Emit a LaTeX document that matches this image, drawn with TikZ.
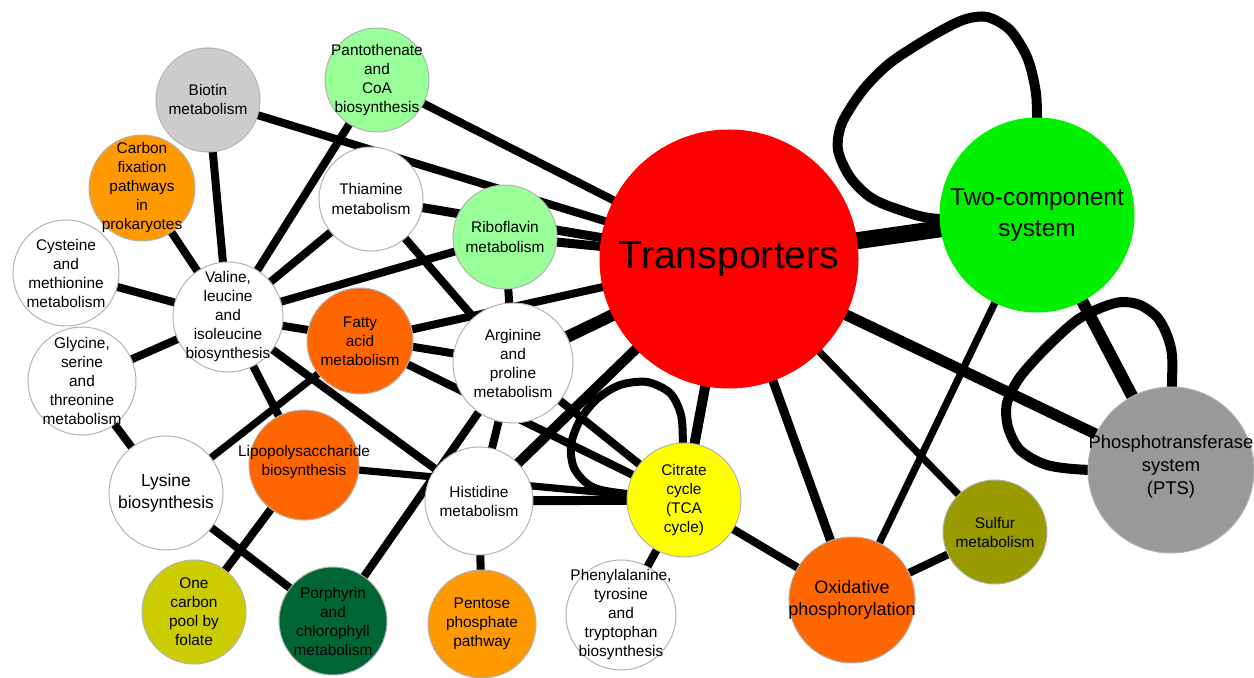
\documentclass[tikz,border=0pt]{standalone}
\usepackage{fontspec}
\setmainfont{Liberation Sans}
\usetikzlibrary{backgrounds}

\definecolor{cTra}{HTML}{FF0000}
\definecolor{cTcs}{HTML}{00F000}
\definecolor{cLgreen}{HTML}{99FF99}
\definecolor{cOrange}{HTML}{FF9900}
\definecolor{cRedor}{HTML}{FF6600}
\definecolor{cYellow}{HTML}{FFFF00}
\definecolor{cOliveA}{HTML}{CCCC00}
\definecolor{cOliveB}{HTML}{999900}
\definecolor{cDkgreen}{HTML}{006633}
\definecolor{cGrayA}{HTML}{CCCCCC}
\definecolor{cGrayB}{HTML}{999999}

\begin{document}
\begin{tikzpicture}[x=0.5pt,y=-0.5pt,
  bub/.style={circle, draw=black!30, line width=0.5pt, inner sep=0pt, fill=white},
  txt/.style={align=center, inner sep=0pt, font=\fontsize{7.7}{9.5}\selectfont},
  edge/.style={line width=4pt},
  thin edge/.style={line width=3.6pt},
  mid edge/.style={line width=5pt},
  heavy edge/.style={line width=6pt},
  loop edge/.style={line width=4.6pt, line join=round}]

\useasboundingbox (0,0) rectangle (1254,678);

% pathway circles (minimum size in pt = radius in px)
\node[bub, fill=cGrayA,   minimum size=52pt]  (bio) at (208,100) {};
\node[bub, fill=cLgreen,  minimum size=52pt]  (pan) at (377,80)  {};
\node[bub, fill=cOrange,  minimum size=53pt]  (cfp) at (142,188) {};
\node[bub,                minimum size=52pt]  (thi) at (371,199) {};
\node[bub,                minimum size=53pt]  (cys) at (66,273)  {};
\node[bub,                minimum size=55pt]  (val) at (228,317) {};
\node[bub, fill=cLgreen,  minimum size=52pt]  (rib) at (505,237) {};
\node[bub, fill=cTra, draw=cTra, minimum size=129pt] (tra) at (729,259) {};
\node[bub, fill=cTcs, draw=cTcs, minimum size=97pt]  (tcs) at (1037,215) {};
\node[bub, fill=cRedor,   minimum size=53pt]  (fat) at (360,341) {};
\node[bub,                minimum size=60pt]  (arg) at (513,363) {};
\node[bub,                minimum size=54pt]  (gly) at (82,381)  {};
\node[bub,                minimum size=57pt]  (lys) at (166,493) {};
\node[bub, fill=cRedor,   minimum size=55pt]  (lps) at (304,465) {};
\node[bub,                minimum size=54pt]  (his) at (479,501) {};
\node[bub, fill=cYellow,  minimum size=57pt]  (tca) at (684,500) {};
\node[bub, fill=cOliveA,  minimum size=52pt]  (one) at (194,612) {};
\node[bub, fill=cDkgreen, minimum size=54pt]  (por) at (333,621) {};
\node[bub, fill=cOrange,  minimum size=54pt]  (pen) at (482,624) {};
\node[bub,                minimum size=55pt]  (phe) at (621,615) {};
\node[bub, fill=cRedor,   minimum size=63pt]  (oxp) at (852,600) {};
\node[bub, fill=cOliveB,  minimum size=52pt]  (sul) at (995,532) {};
\node[bub, fill=cGrayB,   minimum size=83pt]  (pts) at (1171,470) {};

% pathway names
\node[txt] (bio-t) at (bio) {Biotin\\metabolism};
\node[txt] (pan-t) at (pan) {Pantothenate\\and\\CoA\\biosynthesis};
\node[txt] (cfp-t) at (cfp) {Carbon\\fixation\\pathways\\in\\prokaryotes};
\node[txt] (thi-t) at (thi) {Thiamine\\metabolism};
\node[txt] (cys-t) at (cys) {Cysteine\\and\\methionine\\metabolism};
\node[txt] (val-t) at (val) {Valine,\\leucine\\and\\isoleucine\\biosynthesis};
\node[txt] (rib-t) at (rib) {Riboflavin\\metabolism};
\node[txt, font=\fontsize{19.6}{23}\selectfont] (tra-t) at (tra) {Transporters};
\node[txt, font=\fontsize{12.2}{15.5}\selectfont] (tcs-t) at (tcs) {Two-component\\system};
\node[txt] (fat-t) at (fat) {Fatty\\acid\\metabolism};
\node[txt] (arg-t) at (arg) {Arginine\\and\\proline\\metabolism};
\node[txt] (gly-t) at (gly) {Glycine,\\serine\\and\\threonine\\metabolism};
\node[txt, font=\fontsize{8.7}{10.8}\selectfont] (lys-t) at (lys) {Lysine\\biosynthesis};
\node[txt] (lps-t) at ([yshift=1.5pt]lps) {Lipopolysaccharide\\biosynthesis};
\node[txt] (his-t) at (his) {Histidine\\metabolism};
\node[txt] (tca-t) at (tca) {Citrate\\cycle\\(TCA\\cycle)};
\node[txt] (one-t) at (one) {One\\carbon\\pool by\\folate};
\node[txt] (por-t) at (por) {Porphyrin\\and\\chlorophyll\\metabolism};
\node[txt] (pen-t) at (pen) {Pentose\\phosphate\\pathway};
\node[txt] (phe-t) at (phe) {Phenylalanine,\\tyrosine\\and\\tryptophan\\biosynthesis};
\node[txt, font=\fontsize{9}{11}\selectfont] (oxp-t) at (oxp) {Oxidative\\phosphorylation};
\node[txt] (sul-t) at (sul) {Sulfur\\metabolism};
\node[txt, font=\fontsize{9.2}{11.5}\selectfont] (pts-t) at ([yshift=1.5pt]pts) {Phosphotransferase\\system\\(PTS)};

% connections, drawn beneath the circles
\begin{pgfonlayer}{background}
  \draw[edge] (bio.center) -- (tra.center);
  \draw[edge] (bio.center) -- (val.center);
  \draw[edge] (pan.center) -- (tra.center);
  \draw[edge] (pan.center) -- (val.center);
  \draw[edge] (cfp.center) -- (val.center);
  \draw[edge] (cys.center) -- (val.center);
  \draw[edge] (gly.center) -- (val.center);
  \draw[edge] (thi.center) -- (val.center);
  \draw[line width=4.5pt] (thi.center) -- (tra.center);
  \draw[edge] (thi.center) -- (arg.center);
  \draw[edge] (val.center) -- (rib.center);
  \draw[edge] (val.center) -- (arg.center);
  \draw[edge] (val.center) -- (lps.center);
  \draw[edge] (val.center) -- (his.center);
  \draw[line width=4.5pt] (rib.center) -- (tra.center);
  \draw[edge] (rib.center) -- (arg.center);
  \draw[edge] (fat.center) -- (tra.center);
  \draw[edge] (fat.center) -- (tca.center);
  \draw[thin edge] (fat.center) -- (lys.center);
  \draw[heavy edge] (arg.center) -- (tra.center);
  \draw[edge] (arg.center) -- (tca.center);
  \draw[edge] (arg.center) -- (his.center);
  \draw[edge] (por.center) -- (arg.center);
  \draw[edge] (lys.center) -- (por.center);
  \draw[edge] (lys.center) -- (gly.center);
  \draw[edge] (lps.center) -- (one.center);
  \draw[thin edge] (lps.center) -- (tca.center);
  \draw[mid edge] (his.center) -- (tra.center);
  \draw[line width=4.5pt] (his.center) -- (tca.center);
  \draw[edge] (his.center) -- (pen.center);
  \draw[edge] (tca.center) -- (phe.center);
  \draw[edge] (tca.center) -- (oxp.center);
  \draw[mid edge] (tca.center) -- (tra.center);
  \draw[line width=4.5pt] (tra.center) -- (oxp.center);
  \draw[thin edge] (tra.center) -- (sul.center);
  \draw[line width=5.5pt] (tra.center) -- (pts.center);
  \draw[line width=8.5pt] (tra.center) -- (tcs.center);
  \draw[thin edge] (tcs.center) -- (oxp.center);
  \draw[heavy edge] (tcs.center) -- (pts.center);
  \draw[edge] (oxp.center) -- (sul.center);
  % self-loops
  \draw[loop edge, line width=4pt] plot[smooth] coordinates {(tca.center) (683,445) (681,415) (670,393) (647,382) (620,385) (597,399) (580,420) (571,445) (574,468) (589,485) (612,492) (tca.center)};
  \draw[loop edge, line width=5pt] plot[smooth] coordinates {(tcs.center) (940,219) (897,209) (870,197) (850,177) (838,150) (842,123) (863,90) (890,63) (930,37) (963,20) (987,17) (1010,30) (1027,57) (1035,87) (1037,115) (tcs.center)};
  \draw[loop edge, line width=5pt] plot[smooth] coordinates {(pts.center) (1172,388) (1172,355) (1167,335) (1157,317) (1140,305) (1122,302) (1103,307) (1077,320) (1047,347) (1020,377) (1007,403) (1008,427) (1020,450) (1047,465) (1090,470) (pts.center)};
\end{pgfonlayer}
\end{tikzpicture}
\end{document}
